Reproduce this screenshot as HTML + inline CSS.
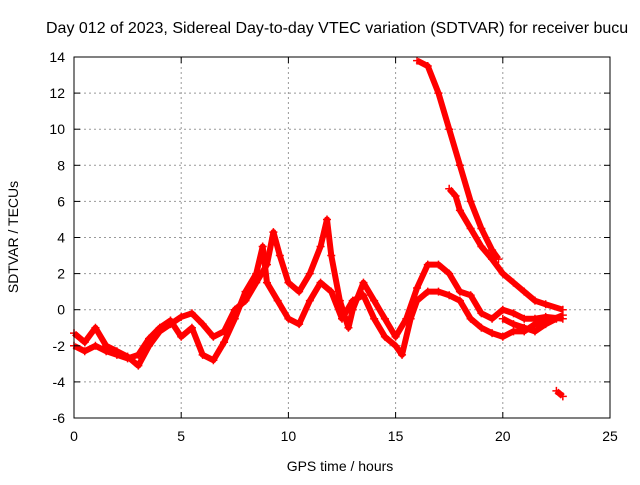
<!DOCTYPE html>
<html><head><meta charset="utf-8"><style>
body{margin:0;background:#fff;}
text{font-family:"Liberation Sans",sans-serif;font-size:14px;fill:#000;}
</style></head><body>
<svg id="chart" width="640" height="480" xmlns="http://www.w3.org/2000/svg">
<rect width="640" height="480" fill="#fff"/>
<text x="46" y="33" style="font-size:16px">Day 012 of 2023, Sidereal Day-to-day VTEC variation (SDTVAR) for receiver bucu</text>
<g id="grid"></g>
<g id="marks"></g>
<rect x="74" y="57" width="536" height="361" fill="none" stroke="#000" stroke-width="1"/>
<g id="ticks"></g>
<text x="340" y="471" text-anchor="middle">GPS time / hours</text>
<text transform="translate(18,237) rotate(-90)" text-anchor="middle">SDTVAR / TECUs</text>
</svg>
<script>
const xTicks=[0,5,10,15,20,25];
const yTicks=[-6,-4,-2,0,2,4,6,8,10,12,14];
const track1=[[0,-1.3],[0.5,-1.8],[1,-1.0],[1.5,-2],[2,-2.3],[2.5,-2.6],[3,-3.1],[3.5,-2],[4,-1.2],[4.5,-0.8],[5,-0.4],[5.5,-0.2],[6,-0.8],[6.5,-1.5],[7,-1.2],[7.5,0],[8,0.5],[8.5,1.5],[9,2.5],[9.3,4.3],[9.6,3],[10,1.5],[10.5,1],[11,2],[11.5,3.5],[11.8,5],[12,3],[12.4,0.5],[12.8,-1],[13,0],[13.5,1.5],[14,0.5],[14.5,-0.5],[15,-1.5],[15.5,-0.5],[16,1.2],[16.5,2.5],[17,2.5],[17.5,2],[18,1],[18.5,0.8],[19,-0.2],[19.5,-0.5],[20,0],[20.5,-0.2],[21,-0.5],[21.5,-0.5],[22,-0.4],[22.8,-0.5]];
const track2=[[0,-2],[0.5,-2.3],[1,-2],[1.5,-2.3],[2,-2.5],[2.5,-2.7],[3,-2.5],[3.5,-1.6],[4,-1],[4.5,-0.6],[5,-1.5],[5.5,-1],[6,-2.5],[6.5,-2.8],[7,-1.8],[7.5,-0.5],[8,1],[8.5,2],[8.8,3.5],[9,1.5],[9.5,0.5],[10,-0.5],[10.5,-0.8],[11,0.5],[11.5,1.5],[12,1],[12.5,-0.5],[13,0.5],[13.5,0.8],[14,-0.5],[14.5,-1.5],[15,-2],[15.3,-2.5],[15.7,-0.5],[16,0.5],[16.5,1],[17,1],[17.5,0.8],[18,0.5],[18.5,-0.5],[19,-1],[19.5,-1.3],[20,-1.5],[20.5,-1.2],[21,-1.2],[21.5,-0.8],[22,-0.7],[22.8,-0.3]];
const track3=[[16,13.8],[16.5,13.5],[17,12],[17.5,10],[18,8],[18.5,6],[19,4.5],[19.5,3.3],[19.8,2.8]];
const track4=[[17.5,6.7],[17.8,6.3],[18,5.5],[18.5,4.5],[19,3.5],[19.5,2.8],[20,2],[20.5,1.5],[21,1],[21.5,0.5],[22,0.3],[22.8,0]];
const track5=[[20,-0.5],[20.5,-0.8],[21,-1.0],[21.5,-1.2],[22,-0.8],[22.5,-0.5]];
const track6=[[22.5,-4.5],[22.8,-4.8]];
const tracks=[track1,track2,track3,track4,track5,track6];
const X0=74,X1=610,Y0=418,Y1=57;
function xs(v){return X0+(v-0)/(25-0)*(X1-X0);}
function ys(v){return Y0-(v+6)/(14+6)*(Y0-Y1);}
const NS="http://www.w3.org/2000/svg";
const grid=document.getElementById('grid'),ticks=document.getElementById('ticks'),marks=document.getElementById('marks');
function mk(t,a,p){const e=document.createElementNS(NS,t);for(const k in a)e.setAttribute(k,a[k]);p.appendChild(e);return e;}
xTicks.forEach(v=>{const x=xs(v);
 if(v>0&&v<25){const g=mk('line',{x1:x,x2:x,y1:Y1,y2:Y0,stroke:'#999','stroke-dasharray':'2,3','stroke-width':1},grid);
 
 }
 const t=mk('text',{x:x,y:Y0+23,'text-anchor':'middle'},ticks);t.textContent=v;
 
 
 mk('line',{x1:x,x2:x,y1:Y0,y2:Y0-6,stroke:'#000'},ticks);mk('line',{x1:x,x2:x,y1:Y1,y2:Y1+6,stroke:'#000'},ticks);});
yTicks.forEach(v=>{const y=ys(v);
 if(v>-6&&v<14){const g=mk('line',{x1:X0,x2:X1,y1:y,y2:y,stroke:'#999','stroke-dasharray':'2,3','stroke-width':1},grid);
 
 }
 const t=mk('text',{x:X0-9,y:y+5,'text-anchor':'end'},ticks);t.textContent=v;
 
 
 mk('line',{x1:X0,x2:X0+6,y1:y,y2:y,stroke:'#000'},ticks);mk('line',{x1:X1,x2:X1-6,y1:y,y2:y,stroke:'#000'},ticks);});
tracks.forEach((tr,i)=>{
 const pl=mk('polyline',{points:tr.map(p=>xs(p[0])+','+ys(p[1])).join(' '),fill:'none',stroke:'#f00','stroke-width':6,'stroke-linejoin':'round'},marks);
 
 
 tr.forEach(p=>{const x=xs(p[0]),y=ys(p[1]);
  const m=mk('path',{d:`M${x-4},${y}H${x+4}M${x},${y-4}V${y+4}`,stroke:'#f00','stroke-width':1.5},marks);
  
  });
});
</script>
</body></html>
